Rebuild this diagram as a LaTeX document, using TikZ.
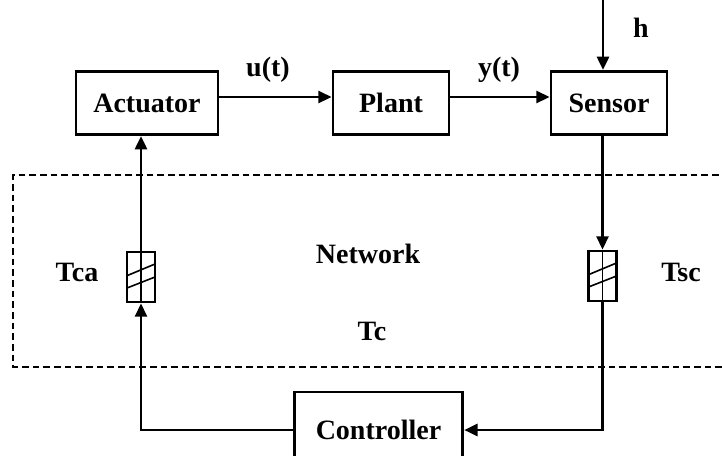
\documentclass[tikz,border=0pt]{standalone}
\usepackage{fontspec}
\setmainfont{Liberation Serif}
\usetikzlibrary{arrows.meta, positioning}

\begin{document}
\begin{tikzpicture}[
    x=0.75pt, y=-0.75pt,
    font=\fontsize{21}{25}\selectfont\bfseries,
    block/.style={rectangle, draw, line width=2.1pt, inner sep=0pt, text centered,
                  minimum height=47.5pt},
    delaybox/.style={rectangle, draw, line width=2.1pt, inner sep=0pt,
                  minimum width=21pt, minimum height=37.5pt,
                  path picture={
                    \draw[line width=1.2pt] (path picture bounding box.north) -- (path picture bounding box.south);
                    \draw[line width=1.2pt] ([yshift=1pt]path picture bounding box.west) -- ([yshift=9.75pt]path picture bounding box.east);
                    \draw[line width=1.2pt] ([yshift=-8.25pt]path picture bounding box.west) -- (path picture bounding box.east);
                  }},
    arr/.style={-{Triangle[length=10pt, width=9pt]}, line width=2.1pt},
    lbl/.style={inner sep=0pt},
]
\useasboundingbox (0,0) rectangle (722,455);
\clip (0,0) rectangle (722,455);
% network region
\draw[line width=1.5pt, dash pattern=on 5pt off 3pt] (740,175) -| (13,367) -- (740,367);
% blocks
\node[block, minimum width=106.5pt] (actuator) at (147,103) {Actuator};
\node[block, minimum width=87pt]    (plant)    at (391,103) {Plant};
\node[block, minimum width=87pt]    (sensor)   at (609,103) {Sensor};
\node[block, minimum width=126.5pt, minimum height=57pt] (controller) at (378.5,430) {Controller};
\node[delaybox] (dca) at (141,277) {};
\node[delaybox] (dsc) at (602.5,276) {};
\coordinate (hin) at (603,0);
% labels
\node[lbl] (hlbl) at (641,28)  {h};
\node[lbl] (ulbl) at (268,70)  {u(t)};
\node[lbl] (ylbl) at (499,70)  {y(t)};
\node[lbl] (net)  at (368,254) {Network};
\node[lbl] (tc)   at (372,331) {Tc};
\node[lbl] (tca)  at (77,272)  {Tca};
\node[lbl] (tsc)  at (681,272) {Tsc};
% connectors
\draw[arr] (hin) -- (hin |- sensor.north);
\draw[arr] ([yshift=4.5pt]actuator.east) -- ([yshift=4.5pt]plant.west);
\draw[arr] ([yshift=4.5pt]plant.east) -- ([yshift=4.5pt]sensor.west);
\draw[arr] (dsc.north |- sensor.south) -- (dsc.north);
\draw[arr] (dsc.south) |- (controller.east);
\draw[arr] (controller.west) -| (dca.south);
\draw[arr] (dca.north) -- (dca.north |- actuator.south);
\end{tikzpicture}
\end{document}
